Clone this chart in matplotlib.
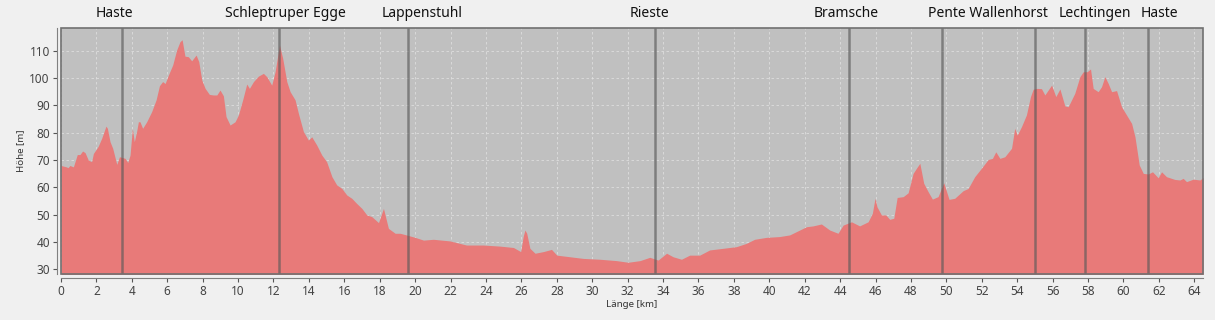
import matplotlib.pyplot as plt
from matplotlib.patches import Rectangle
import matplotlib.transforms as mtransforms

# elevation profile
dist_km = [0.0, 0.3, 0.4, 0.5, 0.7, 0.92, 1.07, 1.22, 1.36, 1.54, 1.73, 1.83, 2.1, 2.3, 2.54, 2.62,
           2.77, 2.92, 3.15, 3.3, 3.43, 3.62, 3.77, 3.9, 4.03, 4.14, 4.27, 4.37, 4.46, 4.61, 4.84,
           5.12, 5.37, 5.56, 5.74, 5.88, 6.06, 6.31, 6.53, 6.72, 6.84, 7.0, 7.19, 7.38, 7.63, 7.78,
           7.95, 8.14, 8.38, 8.6, 8.8, 8.98, 9.17, 9.32, 9.55, 9.83, 10.02, 10.26, 10.49, 10.64,
           10.87, 11.15, 11.43, 11.62, 11.9, 12.09, 12.34, 12.52, 12.75, 12.94, 13.22, 13.41,
           13.69, 13.97, 14.16, 14.44, 14.73, 15.0, 15.3, 15.57, 15.86, 16.14, 16.42, 16.7, 16.99,
           17.27, 17.55, 17.93, 18.21, 18.49, 18.87, 19.15, 19.5, 20.0, 20.47, 21.03, 21.97, 22.9,
           23.85, 24.8, 25.55, 25.96, 26.1, 26.2, 26.3, 26.48, 26.77, 27.24, 27.7, 28.0, 28.75,
           29.5, 30.43, 31.37, 32.03, 32.7, 33.25, 33.72, 34.2, 34.57, 35.04, 35.5, 36.07, 36.63,
           37.39, 38.14, 38.7, 39.17, 39.83, 40.58, 41.15, 41.72, 42.1, 42.47, 42.94, 43.41,
           43.88, 44.17, 44.64, 45.1, 45.58, 45.82, 45.97, 46.08, 46.33, 46.58, 46.8, 47.03,
           47.22, 47.56, 47.84, 48.12, 48.31, 48.5, 48.72, 48.97, 49.21, 49.53, 49.85, 50.15,
           50.47, 50.95, 51.23, 51.6, 51.98, 52.36, 52.6, 52.79, 53.02, 53.3, 53.68, 53.86, 54.0,
           54.24, 54.52, 54.75, 54.9, 55.13, 55.37, 55.56, 55.94, 56.18, 56.41, 56.69, 56.88,
           57.25, 57.54, 57.73, 57.95, 58.14, 58.29, 58.57, 58.76, 58.95, 59.14, 59.33, 59.61,
           59.89, 60.17, 60.46, 60.65, 60.89, 61.12, 61.4, 61.64, 61.96, 62.15, 62.43, 62.9,
           63.19, 63.37, 63.56, 63.94, 64.32, 64.5]
elev_m = [68.0, 67.5, 67.2, 68.0, 67.5, 72.0, 72.0, 73.3, 72.7, 70.0, 69.4, 72.4, 75.0, 78.0, 82.4,
          81.6, 76.7, 74.3, 68.4, 71.2, 71.0, 70.6, 69.1, 71.8, 81.6, 76.7, 80.4, 84.0, 84.0, 81.6,
          84.0, 87.7, 92.0, 97.2, 98.7, 98.0, 101.0, 104.8, 110.2, 113.3, 114.0, 108.0, 107.8,
          106.3, 108.4, 106.0, 99.3, 96.2, 94.0, 93.8, 93.8, 95.6, 93.5, 85.9, 82.8, 84.0, 86.5,
          92.0, 97.8, 96.2, 98.7, 100.7, 101.7, 100.5, 97.4, 102.3, 112.0, 107.2, 98.7, 95.0,
          92.0, 87.0, 80.4, 77.3, 78.5, 75.5, 71.8, 69.4, 63.9, 60.9, 59.6, 57.2, 56.0, 54.1,
          52.3, 49.9, 49.3, 47.1, 52.3, 45.0, 43.2, 43.2, 42.6, 41.7, 40.7, 41.0, 40.4, 38.9,
          38.9, 38.5, 38.0, 36.5, 42.0, 44.4, 43.2, 37.7, 35.9, 36.5, 37.3, 35.2, 34.6, 34.0,
          33.7, 33.2, 32.6, 33.2, 34.4, 33.4, 35.9, 34.6, 33.7, 35.2, 35.2, 37.1, 37.7, 38.3,
          39.5, 41.0, 41.7, 42.0, 42.6, 44.4, 45.6, 45.9, 46.6, 44.4, 43.2, 46.2, 47.4, 45.9,
          47.4, 50.5, 56.0, 52.9, 49.9, 49.9, 48.3, 48.7, 56.3, 56.6, 58.0, 65.1, 67.0, 68.8,
          61.5, 58.4, 55.7, 56.6, 61.7, 55.6, 56.0, 58.8, 59.6, 63.9, 67.0, 70.2, 70.6, 73.0,
          70.6, 71.2, 74.3, 81.6, 79.1, 82.2, 86.5, 93.2, 95.9, 96.2, 96.1, 93.8, 97.4, 93.2,
          96.0, 89.8, 89.5, 94.4, 100.5, 102.3, 102.3, 103.3, 96.2, 95.0, 96.8, 100.5, 98.0,
          95.0, 95.4, 89.5, 86.5, 83.4, 78.5, 68.2, 65.1, 64.9, 65.7, 63.5, 65.7, 63.9, 62.9,
          62.7, 63.3, 62.1, 63.0, 62.7, 63.6]

# waypoints
marker_km = [3.47, 12.3, 19.62, 33.53, 44.5, 49.78, 54.99, 57.82, 61.4]
place_names = ['Haste', 'Schleptruper Egge', 'Lappenstuhl', 'Rieste', 'Bramsche',
               'Pente Wallenhorst', 'Lechtingen', 'Haste']
name_km = [2.99, 12.7, 20.42, 33.24, 44.36, 52.34, 58.4, 62.03]

plt.rcParams['font.family'] = ['Noto Sans', 'DejaVu Sans']

fig = plt.figure(figsize=(12.15, 3.2), dpi=100, facecolor='#f0f0f0')
ax = fig.add_axes([0.0502, 0.1437, 0.9399, 0.7688])
ax.set_facecolor('#c0c0c0')

ax.fill_between(dist_km, elev_m, 0, color='#e87a79', linewidth=0, zorder=2)

for km in marker_km:
    ax.axvline(km, color='#5a5a5a', alpha=0.65, linewidth=1.8, zorder=3)

trans = mtransforms.blended_transform_factory(ax.transData, ax.transAxes)
for name, km in zip(place_names, name_km):
    ax.text(km, 1.058, name, transform=trans, ha='center', va='center',
            fontsize=10, color='#111111')

ax.set_xlim(0, 64.49)
ax.set_ylim(28.3, 118.3)
ax.set_xticks(range(0, 65, 2))
ax.set_yticks(range(30, 111, 10))
ax.grid(True, color='#e4e4e4', linestyle=(0, (3, 3)), linewidth=0.6, alpha=0.8, zorder=1)
ax.set_axisbelow(True)

for side in ['top', 'right']:
    ax.spines[side].set_visible(False)
for side in ['left', 'bottom']:
    ax.spines[side].set_position(('outward', 3))
    ax.spines[side].set_color('#808080')
ax.add_patch(Rectangle((0, 0), 1, 1, transform=ax.transAxes, fill=False,
                       edgecolor='#707070', linewidth=1.2, zorder=5, clip_on=False))

ax.tick_params(labelsize=8.5, colors='#555555', length=3, width=0.8, pad=2)
ax.tick_params(labelcolor='#444444')
ax.set_xlabel('Länge [km]', fontsize=7, color='#333333', labelpad=1)
ax.set_ylabel('Höhe [m]', fontsize=7, color='#333333', labelpad=3)

fig.savefig('out.png', dpi=100, facecolor=fig.get_facecolor())
